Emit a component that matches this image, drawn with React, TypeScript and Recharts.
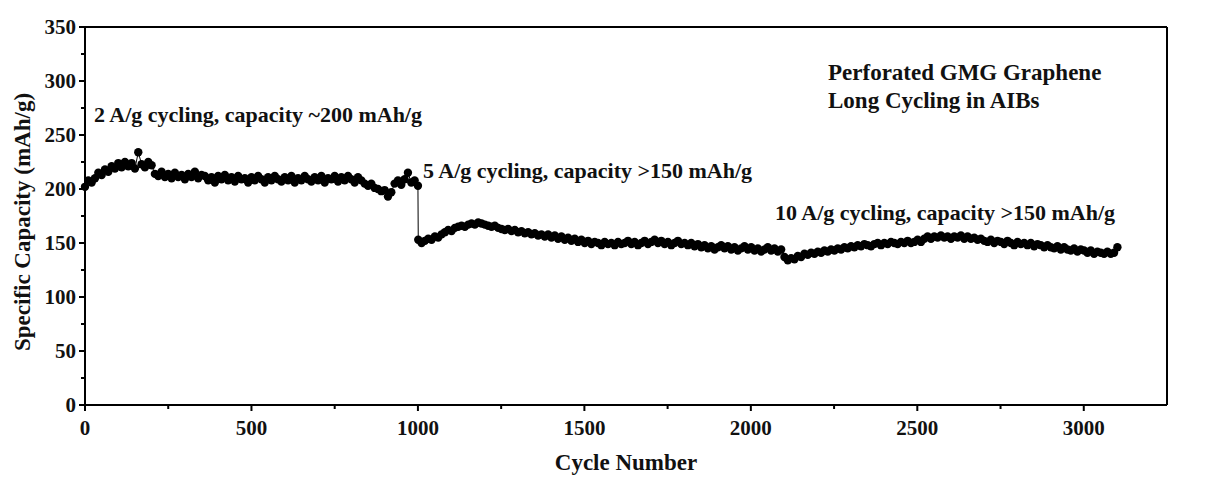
import React from "react";
import {
  LineChart,
  Line,
  XAxis,
  YAxis,
  ReferenceLine
} from "recharts";

// Specific capacity (mAh/g), read every 10 cycles from the figure
const capacity2A = [
  202, 208, 206, 210, 215, 213, 218, 216, 221, 219,
  224, 220, 225, 221, 224, 219, 234, 223, 220, 225,
  222, 214, 212, 216, 211, 214, 210, 215, 211, 213,
  209, 214, 211, 216, 210, 213, 212, 208, 211, 206,
  212, 209, 213, 208, 211, 207, 212, 209, 210, 206,
  211, 208, 212, 209, 206, 211, 208, 212, 209, 207,
  211, 208, 212, 206, 210, 208, 212, 209, 207, 211,
  208, 212, 206, 210, 209, 212, 207, 211, 208, 212,
  209, 206, 211, 208, 205, 203, 205, 201, 200, 198,
  199, 193, 197, 205, 208, 204, 209, 215, 206, 208,
  203
];
const capacity5A = [
  153, 150, 152, 154, 153, 156, 155, 158, 160, 162,
  161, 164, 165, 166, 165, 167, 168, 167, 169, 168,
  167, 166, 165, 166, 164, 163, 162, 163, 161, 162,
  160, 161, 159, 160, 158, 159, 157, 158, 156, 158,
  155, 157, 154, 156, 153, 155, 152, 154, 151, 153,
  150, 152, 149, 151, 150, 148, 151, 149, 150, 148,
  151, 149, 150, 152, 149, 151, 148, 150, 152, 149,
  151, 153, 150, 152, 149, 151, 148, 150, 152, 149,
  150, 148, 150, 147, 149, 146, 148, 145, 147, 144,
  146, 148, 145, 147, 144, 146, 143, 145, 147, 144,
  146, 143, 145, 142, 144, 146, 143, 145, 142, 144
];
const capacity10A = [
  137, 134, 136, 135, 138, 137, 140, 139, 141, 140,
  142, 141, 143, 142, 144, 143, 145, 144, 146, 145,
  147, 146, 148, 147, 149, 148, 147, 149, 150, 148,
  150, 149, 151, 150, 149, 151, 150, 152, 150, 151,
  153, 151, 154, 156, 154, 156, 155, 157, 155, 156,
  154, 156, 155, 157, 154, 156, 154, 155, 153, 154,
  152, 151, 153, 150, 152, 151, 149, 152, 150, 148,
  151, 149, 150, 148, 150, 147, 149, 148, 146, 148,
  146, 145, 147, 144, 146, 144, 143, 145, 142, 144,
  143, 141, 143, 140, 142, 141, 140, 142, 140, 141,
  146
];

// first cycle of each rate segment, cycles sampled every 10
const segmentStarts = [0, 1001, 2101];
const cycleStep = 10;

const data = [capacity2A, capacity5A, capacity10A].flatMap((seg, s) =>
  seg.map((v, i) => ({ cycle: segmentStarts[s] + i * cycleStep, capacity: v }))
);

const xMajorTicks = [0, 500, 1000, 1500, 2000, 2500, 3000];
const xAllTicks = [0, 250, 500, 750, 1000, 1250, 1500, 1750, 2000, 2250, 2500, 2750, 3000];
const yMajorTicks = [0, 50, 100, 150, 200, 250, 300, 350];
const yAllTicks = [0, 25, 50, 75, 100, 125, 150, 175, 200, 225, 250, 275, 300, 325, 350];

const serif = "'Liberation Serif', 'Times New Roman', serif";
const sans = "'Liberation Sans', Arial, sans-serif";

const BottomTick = (props: any) => {
  const { x, y, payload } = props;
  const major = xMajorTicks.includes(payload.value);
  return (
    <g>
      <line x1={x} x2={x} y1={y} y2={y + (major ? 6 : 4)} stroke="#000" strokeWidth={2} />
      {major && (
        <text x={x} y={y + 30} textAnchor="middle" fontFamily={serif} fontWeight="bold" fontSize={21} fill="#111">
          {payload.value}
        </text>
      )}
    </g>
  );
};

const LeftTick = (props: any) => {
  const { x, y, payload } = props;
  const major = yMajorTicks.includes(payload.value);
  return (
    <g>
      <line x1={x - (major ? 6 : 4)} x2={x} y1={y} y2={y} stroke="#000" strokeWidth={2} />
      {major && (
        <text x={x - 9} y={y + 7} textAnchor="end" fontFamily={serif} fontWeight="bold" fontSize={21} fill="#111">
          {payload.value}
        </text>
      )}
    </g>
  );
};

const RightTick = (props: any) => {
  const { x, y, payload } = props;
  return (
    <text x={x + 9} y={y + 5} textAnchor="start" fontFamily={sans} fontSize={15} fill="#222">
      {payload.value}
    </text>
  );
};

const note = { fontFamily: serif, fontWeight: "bold" as const, fontSize: 22, fill: "#111" };
const title = { ...note, fontSize: 23 };

export default function App() {
  return (
    <div style={{ position: "absolute", left: 0, top: 0, width: 1206, height: 477, background: "#fff" }}>
      <LineChart width={1206} height={477} data={data} margin={{ top: 27, right: 0, bottom: 0, left: 0 }}>
        <XAxis
          dataKey="cycle"
          type="number"
          domain={[0, 3250]}
          ticks={xAllTicks}
          interval={0}
          height={72}
          tickSize={0}
          tickMargin={0}
          tickLine={false}
          axisLine={{ stroke: "#000", strokeWidth: 2 }}
          tick={<BottomTick />}
        />
        <YAxis
          yAxisId="left"
          domain={[0, 350]}
          ticks={yAllTicks}
          interval={0}
          width={85}
          tickSize={0}
          tickMargin={0}
          tickLine={false}
          axisLine={{ stroke: "#000", strokeWidth: 2 }}
          tick={<LeftTick />}
        />
        <YAxis
          yAxisId="right"
          orientation="right"
          domain={[0, 350]}
          ticks={yMajorTicks}
          interval={0}
          width={39}
          tickSize={0}
          tickMargin={0}
          tickLine={false}
          axisLine={{ stroke: "#000", strokeWidth: 2 }}
          tick={<RightTick />}
        />
        <ReferenceLine yAxisId="left" y={350} stroke="#000" strokeWidth={2} />
        <Line
          yAxisId="left"
          dataKey="capacity"
          type="linear"
          stroke="#000"
          strokeWidth={1}
          dot={{ r: 4.2, fill: "#000", stroke: "#000", strokeWidth: 0 }}
          isAnimationActive={false}
        />
      </LineChart>
      <svg width={1206} height={477} style={{ position: "absolute", left: 0, top: 0, pointerEvents: "none" }}>
        <text x={94} y={122} {...note}>2 A/g cycling, capacity ~200 mAh/g</text>
        <text x={423} y={178} {...note}>5 A/g cycling, capacity &gt;150 mAh/g</text>
        <text x={775} y={220} {...note}>10 A/g cycling, capacity &gt;150 mAh/g</text>
        <text x={828} y={80} {...title}>Perforated GMG Graphene</text>
        <text x={828} y={108} {...title}>Long Cycling in AIBs</text>
        <text x={626} y={470} textAnchor="middle" {...title}>Cycle Number</text>
        <text x={0} y={0} textAnchor="middle" transform="translate(30,222) rotate(-90)" {...title}>
          Specific Capacity (mAh/g)
        </text>
      </svg>
    </div>
  );
}
